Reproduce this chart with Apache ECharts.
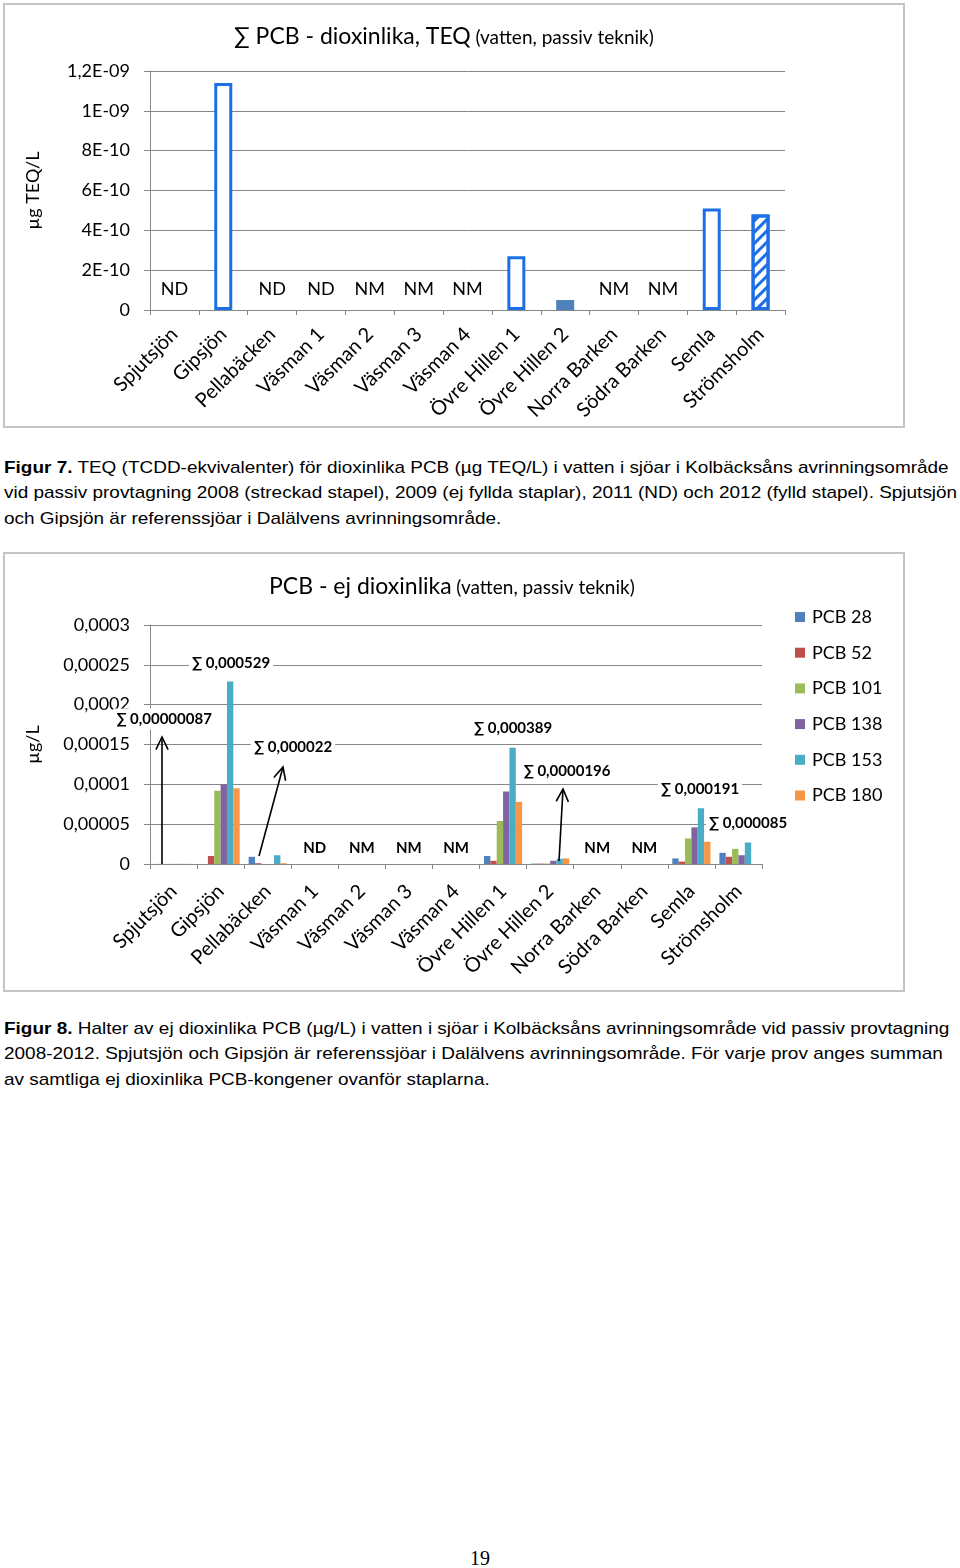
<!DOCTYPE html>
<html><head><meta charset="utf-8">
<script src="https://cdn.jsdelivr.net/npm/echarts@6/dist/echarts.min.js"></script>
<style>
body{margin:0;background:#fff;width:960px;height:1568px;position:relative;overflow:hidden}
#c1{position:absolute;left:0;top:0;width:960px;height:440px}
#c2{position:absolute;left:0;top:540px;width:960px;height:460px}
.cap{position:absolute;left:4px;white-space:nowrap;font-family:'Liberation Sans',Arial,sans-serif;font-size:17px;line-height:25.3px;color:#000;transform:scaleX(1.115);transform-origin:0 0}
#cap1{top:455px}
#cap2{top:1016px}
#pg{position:absolute;left:0;width:960px;top:1547px;text-align:center;font-family:'Liberation Serif',serif;font-size:20px;color:#000}
</style></head><body>
<div id="c1"></div>
<div class="cap" id="cap1"><b>Figur 7.</b> TEQ (TCDD-ekvivalenter) för dioxinlika PCB (µg TEQ/L) i vatten i sjöar i Kolbäcksåns avrinningsområde<br>vid passiv provtagning 2008 (streckad stapel), 2009 (ej fyllda staplar), 2011 (ND) och 2012 (fylld stapel). Spjutsjön<br>och Gipsjön är referenssjöar i Dalälvens avrinningsområde.</div>
<div id="c2"></div>
<div class="cap" id="cap2"><b>Figur 8.</b> Halter av ej dioxinlika PCB (µg/L) i vatten i sjöar i Kolbäcksåns avrinningsområde vid passiv provtagning<br>2008-2012. Spjutsjön och Gipsjön är referenssjöar i Dalälvens avrinningsområde. För varje prov anges summan<br>av samtliga ej dioxinlika PCB-kongener ovanför staplarna.</div>
<div id="pg">19</div>
<script>
// ---------- DATA ----------
const categories = ['Spjutsjön','Gipsjön','Pellabäcken','Väsman 1','Väsman 2','Väsman 3','Väsman 4','Övre Hillen 1','Övre Hillen 2','Norra Barken','Södra Barken','Semla','Strömsholm'];

// Figure 7 (µg TEQ/L)
const teq2008 = [null,null,null,null,null,null,null,null,null,null,null,null,4.8e-10];
const teq2009 = [null,1.14e-9,null,null,null,null,null,2.7e-10,null,null,null,5.1e-10,null];
const teq2012 = [null,null,null,null,null,null,null,null,5e-11,null,null,null,null];
const teqNotes = ['ND','','ND','ND','NM','NM','NM','','','NM','NM','',''];
const teqTicks = ['0','2E-10','4E-10','6E-10','8E-10','1E-09','1,2E-09'];

// Figure 8 (µg/L)
const pcbNames = ['PCB 28','PCB 52','PCB 101','PCB 138','PCB 153','PCB 180'];
const pcb28  = [0.0000001,0,0.000009,null,null,null,null,0.000010,0.0000005,null,null,0.000007,0.000014];
const pcb52  = [0.0000001,0.000010,0.000001,null,null,null,null,0.000004,0.0000005,null,null,0.000003,0.000009];
const pcb101 = [0.00000015,0.000092,0,null,null,null,null,0.000054,0.0000006,null,null,0.000032,0.000019];
const pcb138 = [0.00000015,0.000100,0,null,null,null,null,0.000091,0.000004,null,null,0.000046,0.000011];
const pcb153 = [0.0000002,0.000229,0.000011,null,null,null,null,0.000146,0.0000065,null,null,0.000070,0.000027];
const pcb180 = [0.00000017,0.000095,0.000001,null,null,null,null,0.000078,0.000007,null,null,0.000028,0];
const pcbNotes = ['','','','ND','NM','NM','NM','','','NM','NM','',''];
const pcbTicks = ['0','0,00005','0,0001','0,00015','0,0002','0,00025','0,0003'];
const sumTexts = ['∑ 0,00000087','∑ 0,000529','∑ 0,000022','','','','','∑ 0,000389','∑ 0,0000196','','','∑ 0,000191','∑ 0,000085'];

// ---------- STYLE ----------
const FONT = 'Lato, Carlito, Calibri, sans-serif';
const GRID = '#868686';
const BLUE = '#1c6fe4';
const pcbColors = ['#4f81bd','#c0504d','#9bbb59','#8064a2','#4bacc6','#f79646'];

function axisCommon() {
  return {
    axisLine:{show:true,lineStyle:{color:GRID,width:1}},
    axisTick:{show:true,length:6,lineStyle:{color:GRID}},
  };
}
const titleRich = {
  a:{fontSize:23,fontFamily:FONT,fontWeight:'normal',color:'#000',verticalAlign:'bottom'},
  b:{fontSize:19,fontFamily:FONT,fontWeight:'normal',color:'#000',verticalAlign:'bottom',padding:[0,0,1,0]}
};

// ---------- CHART 1 ----------
const c1 = echarts.init(document.getElementById('c1'), null, {renderer:'canvas'});
c1.setOption({
  animation:false,
  textStyle:{fontFamily:FONT},
  title:{
    text:'{a|∑ PCB - dioxinlika, TEQ} {b|(vatten, passiv teknik)}',
    left:229, top:20,
    textStyle:{fontWeight:'normal', rich:titleRich}
  },
  grid:{left:150, top:71, width:635, height:239},
  xAxis:[{
    type:'category', data:categories, ...axisCommon(),
    axisTick:{show:true,length:5,interval:0,lineStyle:{color:GRID}},
    axisLabel:{interval:0, rotate:45, fontSize:20, fontFamily:FONT, color:'#000', margin:21}
  },{
    type:'category', data:categories, show:false
  }],
  yAxis:{
    type:'value', min:0, max:1.2e-9, interval:2e-10, ...axisCommon(),
    splitLine:{lineStyle:{color:GRID}},
    axisLabel:{fontSize:18, fontFamily:FONT, color:'#000', margin:20, formatter:v=>teqTicks[Math.round(v/2e-10)]},
    name:'µg TEQ/L', nameLocation:'middle', nameGap:108, nameRotate:90,
    nameTextStyle:{fontSize:18, fontFamily:FONT, color:'#000'}
  },
  series:[
    {type:'bar', name:'2009', stack:'t', data:teq2009, barWidth:18,
     itemStyle:{color:'#fff', borderColor:BLUE, borderWidth:3}},
    {type:'bar', name:'2008', stack:'t', data:teq2008, barWidth:18,
     itemStyle:{color:'#fff', borderColor:BLUE, borderWidth:3,
       decal:{symbol:'rect', symbolSize:1, dashArrayX:[1,0], dashArrayY:[3,5], rotation:-Math.PI/4, color:BLUE}}},
    {type:'bar', name:'2012', stack:'t', data:teq2012, barWidth:18,
     itemStyle:{color:'#4f81bd'}},
    {type:'bar', name:'notes', xAxisIndex:1, data:teqNotes.map(n=>n?0:null), barWidth:18,
     itemStyle:{color:'rgba(0,0,0,0)'},
     label:{show:true, position:'top', distance:12, fontSize:18, fontFamily:FONT, color:'#000',
       formatter:p=>teqNotes[p.dataIndex]}}
  ],
  graphic:[
    {type:'rect', z:-10, shape:{x:4,y:4,width:900,height:423}, style:{fill:'#fff', stroke:'#c4c4c4', lineWidth:2}}
  ]
});

// ---------- CHART 2 ----------
const c2 = echarts.init(document.getElementById('c2'), null, {renderer:'canvas'});
const pcbData = [pcb28,pcb52,pcb101,pcb138,pcb153,pcb180];

// annotation layout (pixels, chart-local)
const sumPos = {0:[164,179],1:[231,123],2:[293,207],7:[513,188],8:[567,231],11:[700,249],12:[748,283]};
const arrows = [[162,324,162,197],[259,316,283,227],[559,321,563,249]];

function arrowGraphics(a){
  const [x1,y1,x2,y2]=a;
  const ang=Math.atan2(y2-y1,x2-x1), L=14, w=0.45;
  const p1=[x2-L*Math.cos(ang-w), y2-L*Math.sin(ang-w)];
  const p2=[x2-L*Math.cos(ang+w), y2-L*Math.sin(ang+w)];
  return [
    {type:'line', z:100, shape:{x1,y1,x2,y2}, style:{stroke:'#000', lineWidth:1.6}},
    {type:'polyline', z:100, shape:{points:[p1,[x2,y2],p2]}, style:{stroke:'#000', lineWidth:1.6, fill:null}}
  ];
}

const g2 = [{type:'rect', z:-10, shape:{x:4,y:13,width:900,height:438}, style:{fill:'#fff', stroke:'#c4c4c4', lineWidth:2}}];
sumTexts.forEach((t,i)=>{
  if(!t) return;
  const p=sumPos[i];
  g2.push({type:'text', z:101, x:p[0], y:p[1], style:{text:t, font:'bold 15px '+FONT, fill:'#000', align:'center', verticalAlign:'middle', backgroundColor:'#fff', padding:[3,3]}});
});
arrows.forEach(a=>g2.push(...arrowGraphics(a)));

c2.setOption({
  animation:false,
  textStyle:{fontFamily:FONT},
  title:{
    text:'{a|PCB - ej dioxinlika} {b|(vatten, passiv teknik)}',
    left:264, top:30,
    textStyle:{fontWeight:'normal', rich:titleRich}
  },
  legend:{
    orient:'vertical', left:790, top:63, data:pcbNames, icon:'rect',
    itemWidth:10, itemHeight:10, itemGap:17.7,
    textStyle:{fontSize:18, fontFamily:FONT, color:'#000', padding:[0,0,0,2]}
  },
  grid:{left:150, top:85, width:612, height:239},
  xAxis:[{
    type:'category', data:categories, ...axisCommon(),
    axisTick:{show:true,length:5,interval:0,lineStyle:{color:GRID}},
    axisLabel:{interval:0, rotate:45, fontSize:20, fontFamily:FONT, color:'#000', margin:24}
  },{
    type:'category', data:categories, show:false
  }],
  yAxis:{
    type:'value', min:0, max:0.0003, interval:0.00005, ...axisCommon(),
    splitLine:{lineStyle:{color:GRID}},
    axisLabel:{fontSize:18, fontFamily:FONT, color:'#000', margin:20, formatter:v=>pcbTicks[Math.round(v/0.00005)]},
    name:'µg/L', nameLocation:'middle', nameGap:108, nameRotate:90,
    nameTextStyle:{fontSize:18, fontFamily:FONT, color:'#000'}
  },
  series:[
    ...pcbNames.map((n,k)=>({type:'bar', name:n, data:pcbData[k], barGap:'0%', barCategoryGap:'19%', itemStyle:{color:pcbColors[k]}})),
    {type:'bar', name:'notes', xAxisIndex:1, data:pcbNotes.map(n=>n?0:null), barWidth:20,
     itemStyle:{color:'rgba(0,0,0,0)'},
     label:{show:true, position:'top', distance:8, fontSize:15, fontWeight:'bold', fontFamily:FONT, color:'#000',
       formatter:p=>pcbNotes[p.dataIndex]}}
  ],
  graphic:g2
});
</script>
</body></html>
